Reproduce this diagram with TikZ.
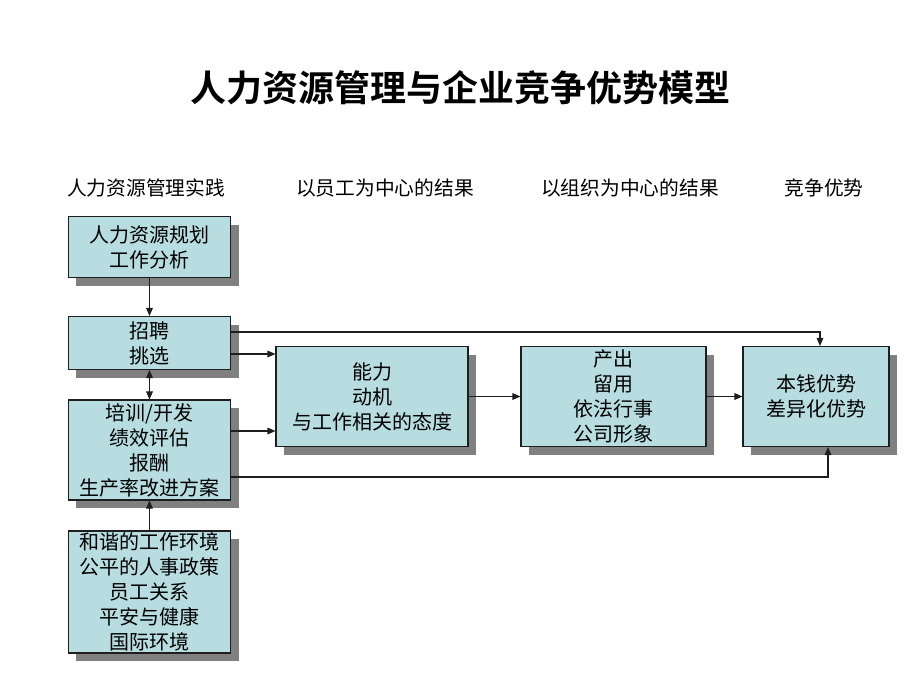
\documentclass[tikz,border=0pt]{standalone}
\usepackage{fontspec}
\setmainfont{Noto Sans CJK SC}[BoldFont={Noto Sans CJK SC Bold}]
\usepackage{tikz}
\usetikzlibrary{arrows.meta, shadows}

\definecolor{boxfill}{RGB}{184,221,225}
\definecolor{boxshadow}{RGB}{128,128,128}
\definecolor{linegray}{RGB}{30,30,30}

\tikzset{
    box/.style={draw=linegray, line width=0.8pt, fill=boxfill, align=center,
        inner sep=0pt, font=\fontsize{15pt}{18.75pt}\selectfont,
        drop shadow={shadow xshift=6pt, shadow yshift=-6pt, fill=boxshadow, opacity=1}},
    header/.style={font=\fontsize{14.8pt}{17pt}\selectfont},
    link/.style={linegray, line width=0.8pt},
    arrow/.style={link, -{Triangle[length=6pt, width=5pt]}},
    twoway/.style={link, {Triangle[length=6pt, width=5pt]}-{Triangle[length=6pt, width=5pt]}},
}

\begin{document}
\begin{tikzpicture}[x=0.75pt, y=-0.75pt]
    \useasboundingbox (0,0) rectangle (920,690);

    % title and column heads
    \node[font=\fontsize{27pt}{32pt}\selectfont\bfseries] (title) at (460,88)
        {人力资源管理与企业竞争优势模型};
    \node[header] (headPractice) at (146,188) {人力资源管理实践};
    \node[header] (headEmployee) at (385,188) {以员工为中心的结果};
    \node[header] (headOrg) at (630,188) {以组织为中心的结果};
    \node[header] (headAdv) at (824,188) {竞争优势};

    % boxes
    \node[box, minimum width=122pt, minimum height=45.75pt] (plan) at (149.5,247)
        {人力资源规划\\工作分析};
    \node[box, minimum width=122pt, minimum height=39.75pt] (recruit) at (149.5,343)
        {招聘\\挑选};
    \node[box, minimum width=122pt, minimum height=75pt] (train) at (149.5,450)
        {培训/开发\\绩效评估\\报酬\\生产率改进方案};
    \node[box, minimum width=122pt, minimum height=91.5pt] (env) at (149.5,592)
        {和谐的工作环境\\公平的人事政策\\员工关系\\平安与健康\\国际环境};
    \node[box, minimum width=144pt, minimum height=75pt] (ability) at (372,396.5)
        {能力\\动机\\与工作相关的态度};
    \node[box, minimum width=138.75pt, minimum height=75pt] (output) at (613.5,396.5)
        {产出\\留用\\依法行事\\公司形象};
    \node[box, minimum width=109.5pt, minimum height=75pt] (advantage) at (816,396.5)
        {本钱优势\\差异化优势};

    % connectors
    \draw[arrow] (plan) -- (recruit);
    \draw[twoway] (recruit) -- (train);
    \draw[arrow] (env) -- (train);
    \draw[arrow] (recruit.east |- 0,354) -- (ability.west |- 0,354);
    \draw[arrow] (train.east |- 0,431) -- (ability.west |- 0,431);
    \draw[arrow] (ability) -- (output);
    \draw[arrow] (output) -- (advantage);
    \draw[arrow] (recruit.east |- 0,332) -| (advantage.north -| 820,0);
    \draw[arrow] (train.east |- 0,477) -| (advantage.south -| 828,0);
\end{tikzpicture}
\end{document}
